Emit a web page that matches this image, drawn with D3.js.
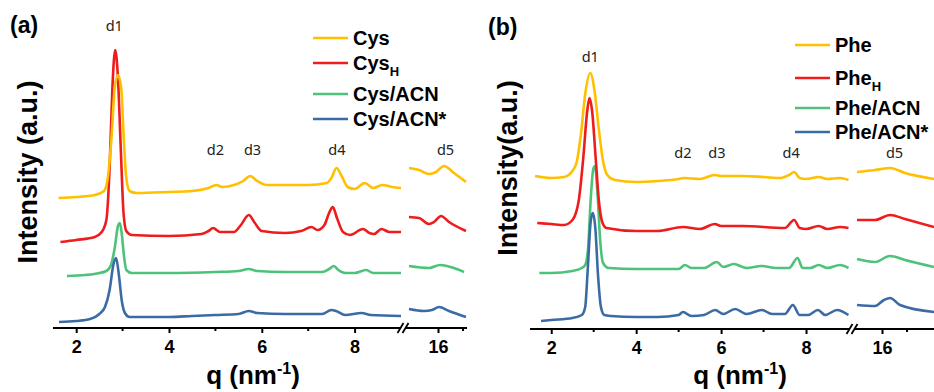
<!DOCTYPE html>
<html>
<head>
<meta charset="utf-8">
<script src="https://cdnjs.cloudflare.com/ajax/libs/d3/7.8.5/d3.min.js"></script>
<style>
body { margin: 0; background: #fff; }
svg { display: block; }
</style>
</head>
<body>
<script>
// sizes
var w = 934;
var h = 392;

// ---- data: [q (nm^-1), intensity (a.u., stacked)] ----
// panel (a), q from 1.5 to 9
var cysL = [[1.62,130],[2.0,131],[2.4,133],[2.6,137],[2.68,150],[2.76,190],[2.83,240],[2.9,253],[2.97,240],[3.03,185],[3.08,150],[3.15,137],[3.3,135],[4.0,136],[4.5,137],[4.85,140],[5.02,143],[5.15,141],[5.4,143],[5.6,147],[5.75,152],[5.9,147],[6.1,143],[7.0,143],[7.4,145],[7.5,150],[7.61,160],[7.72,152],[7.85,141],[8.0,139],[8.22,145],[8.4,140],[8.6,143],[8.8,141],[9.0,140]];
var cysHL = [[1.66,86],[2.0,88],[2.4,91],[2.55,96],[2.65,108],[2.72,160],[2.78,240],[2.84,278],[2.9,250],[2.96,180],[3.02,115],[3.08,97],[3.2,93],[4.0,92],[4.7,94],[4.85,97],[4.95,100],[5.1,96],[5.4,96],[5.55,103],[5.72,113],[5.85,105],[6.0,97],[6.5,95],[6.85,97],[7.07,101],[7.2,98],[7.35,103],[7.45,115],[7.53,121],[7.62,110],[7.75,96],[7.9,93],[8.18,99],[8.32,95],[8.42,94],[8.58,99],[8.75,96],[9.0,96]];
var cysAcnL = [[1.8,52],[2.2,53],[2.5,55],[2.65,57],[2.75,63],[2.83,80],[2.9,102],[2.94,105],[2.98,95],[3.03,72],[3.08,58],[3.2,55],[4.0,55],[5.0,56],[5.5,57],[5.72,59],[5.9,57],[6.5,56],[7.3,56],[7.45,59],[7.55,62],[7.65,58],[7.8,55],[8.0,55],[8.25,58],[8.4,55],[9.0,55]];
var cysAcnsL = [[1.63,6],[2.0,7],[2.3,9],[2.5,14],[2.62,21],[2.72,38],[2.8,63],[2.86,70],[2.92,53],[2.98,28],[3.05,15],[3.15,11],[4.0,11],[4.5,12],[5.0,13],[5.5,14],[5.72,17],[5.9,15],[6.5,14],[7.3,14],[7.5,18],[7.6,17],[7.8,13],[8.15,15],[8.35,13],[9.0,12]];
// panel (a), q near 16
var cysR = [[14.84,160],[15.24,158],[15.64,154],[15.92,156],[16.24,162],[16.64,155],[17.12,146]];
var cysHR = [[14.84,111],[15.24,110],[15.64,104],[15.84,106],[16.12,112],[16.44,106],[17.12,97]];
var cysAcnR = [[14.84,62],[15.64,60],[16.08,63],[16.64,60],[17.04,56]];
var cysAcnsR = [[14.84,19],[15.44,17],[15.76,18],[16.04,21],[16.44,17],[17.12,11]];

// panel (b), q from 1.5 to 9
var pheL = [[1.62,153],[2.0,151],[2.3,152],[2.5,158],[2.6,167],[2.7,195],[2.8,235],[2.92,256],[3.02,238],[3.12,200],[3.22,168],[3.32,154],[3.5,149],[4.0,147],[4.5,148],[5.0,150],[5.12,151],[5.5,150],[5.85,154],[6.0,153],[6.5,153],[7.0,152],[7.4,151],[7.6,154],[7.72,157],[7.85,151],[8.0,150],[8.3,152],[8.5,150],[8.8,151],[9.0,149]];
var pheHL = [[1.67,106],[2.0,105],[2.3,104],[2.5,109],[2.65,129],[2.75,169],[2.85,219],[2.9,231],[2.96,219],[3.05,169],[3.12,129],[3.2,107],[3.3,101],[4.0,98],[4.5,98],[5.1,102],[5.5,100],[5.85,105],[6.0,103],[6.5,103],[7.5,101],[7.72,109],[7.85,101],[8.0,100],[8.3,103],[8.5,100],[8.8,102],[9.0,101]];
var pheAcnL = [[1.72,56],[2.0,56],[2.5,58],[2.72,61],[2.8,64],[2.87,82],[2.93,130],[2.99,160],[3.03,163],[3.09,135],[3.15,90],[3.22,66],[3.35,61],[4.0,60],[5.0,60],[5.15,64],[5.3,61],[5.6,61],[5.9,67],[6.05,62],[6.3,65],[6.6,61],[6.95,63],[7.3,61],[7.6,61],[7.8,71],[7.92,61],[8.1,61],[8.3,64],[8.5,61],[8.8,64],[9.0,61]];
var pheAcnsL = [[1.76,8],[2.0,9],[2.5,11],[2.72,14],[2.8,22],[2.86,60],[2.93,108],[2.98,116],[3.04,100],[3.1,55],[3.17,22],[3.25,14],[3.4,13],[4.0,12],[4.5,12],[5.0,14],[5.1,17],[5.3,13],[5.6,14],[5.86,19],[6.05,15],[6.33,20],[6.6,15],[6.96,19],[7.2,15],[7.5,15],[7.69,24],[7.85,14],[8.05,14],[8.28,19],[8.45,14],[8.73,19],[9.0,14]];
// panel (b), q near 16
var pheR = [[15.0,157],[15.72,159],[16.32,161],[16.92,156],[18.08,150]];
var pheHR = [[15.0,109],[15.72,109],[16.32,114],[16.92,110],[18.08,102]];
var pheAcnR = [[15.0,70],[15.72,67],[16.32,73],[16.92,69],[18.08,62]];
var pheAcnsR = [[15.0,24],[15.72,23],[16.08,29],[16.32,31],[16.72,24],[18.08,17]];

// names, peak labels, ticks
var cysNames = [["Cys",""],["Cys","H"],["Cys/ACN",""],["Cys/ACN*",""]];
var pheNames = [["Phe",""],["Phe","H"],["Phe/ACN",""],["Phe/ACN*",""]];
var peakNames = ["d1","d2","d3","d4","d5"];
var cysPeakQ = [2.82, 5.0, 5.8, 7.62, 16.3];
var phePeakQ = [2.92, 5.1, 5.9, 7.65, 16.5];
var majorTicksL = [2, 4, 6, 8];
var minorTicksL = [3, 5, 7];
var majorTicksR = [16];
var minorTicksR = [17];

var colors = ["#FFC000", "#EE1C1C", "#4DC27A", "#3B6BA5"];

var svg = d3.select("body")
    .append("svg")
    .attr("width", w)
    .attr("height", h)
    .style("font-family", "'Liberation Sans', Arial, sans-serif");

var panels = [
    {
        tag: "(a)", tagX: 10, tagY: 33,
        axisY: 328, left: [53, 401], right: [407, 467],
        domL: [1.5, 9.0], domR: [14.76, 17.16],
        breakX: 403,
        series: [[cysL, cysR], [cysHL, cysHR], [cysAcnL, cysAcnR], [cysAcnsL, cysAcnsR]],
        names: cysNames,
        legY: [38, 63, 94, 119], legX: 313,
        peaks: cysPeakQ, d1Y: 31, dY: 155,
        ylab: "Intensity (a.u.)", ylabX: 28, ylabY: 172,
        xlabX: 253
    },
    {
        tag: "(b)", tagX: 488, tagY: 35,
        axisY: 329, left: [530, 848.5], right: [857, 934],
        domL: [1.5, 9.0], domR: [15.0, 18.08],
        breakX: 852,
        series: [[pheL, pheR], [pheHL, pheHR], [pheAcnL, pheAcnR], [pheAcnsL, pheAcnsR]],
        names: pheNames,
        legY: [45, 78, 108, 132], legX: 795,
        peaks: phePeakQ, d1Y: 62, dY: 158,
        ylab: "Intensity(a.u.)", ylabX: 508, ylabY: 168,
        xlabX: 740
    }
];

function draw_panel(p) {
    var g = svg.append("g");

    var xL = d3.scaleLinear().domain(p.domL).range(p.left);
    var xR = d3.scaleLinear().domain(p.domR).range(p.right);
    var y = d3.scaleLinear().domain([0, 300]).range([p.axisY, p.axisY - 300]);

    // curves
    var lineL = d3.line().x(d => xL(d[0])).y(d => y(d[1])).curve(d3.curveMonotoneX);
    var lineR = d3.line().x(d => xR(d[0])).y(d => y(d[1])).curve(d3.curveMonotoneX);
    var order = [2, 3, 1, 0];
    order.forEach(i => {
        g.append("path").attr("d", lineL(p.series[i][0]))
            .attr("fill", "none").attr("stroke", colors[i])
            .attr("stroke-width", 2.6).attr("stroke-linejoin", "round");
        g.append("path").attr("d", lineR(p.series[i][1]))
            .attr("fill", "none").attr("stroke", colors[i])
            .attr("stroke-width", 2.6).attr("stroke-linejoin", "round");
    });

    // x axis, two pieces
    var axL = g.append("g").attr("transform", "translate(0," + p.axisY + ")")
        .call(d3.axisBottom(xL).tickValues(majorTicksL).tickSize(5).tickPadding(7).tickFormat(d3.format("d")));
    axL.select(".domain").attr("d", "M" + p.left[0] + ",0H" + (p.breakX - 3));
    var axR = g.append("g").attr("transform", "translate(0," + p.axisY + ")")
        .call(d3.axisBottom(xR).tickValues(majorTicksR).tickSize(5).tickPadding(7).tickFormat(d3.format("d")));
    axR.select(".domain").attr("d", "M" + (p.breakX + 3) + ",0H" + p.right[1]);
    [axL, axR].forEach(ax => {
        ax.select(".domain").attr("stroke", "#000").attr("stroke-width", 2.2);
        ax.selectAll(".tick line").attr("stroke", "#000").attr("stroke-width", 2);
        ax.selectAll(".tick text").attr("fill", "#000")
            .style("font-size", "18px").style("font-weight", "bold")
            .style("font-family", "'Liberation Sans', Arial, sans-serif");
    });
    g.selectAll(".minorL").data(minorTicksL).enter().append("line")
        .attr("x1", d => xL(d)).attr("x2", d => xL(d))
        .attr("y1", p.axisY).attr("y2", p.axisY + 3)
        .attr("stroke", "#000").attr("stroke-width", 2);
    g.selectAll(".minorR").data(minorTicksR).enter().append("line")
        .attr("x1", d => xR(d)).attr("x2", d => xR(d))
        .attr("y1", p.axisY).attr("y2", p.axisY + 3)
        .attr("stroke", "#000").attr("stroke-width", 2);

    // break marks
    [-2.5, 2.5].forEach(dx => {
        g.append("line")
            .attr("x1", p.breakX + dx - 3).attr("y1", p.axisY + 5)
            .attr("x2", p.breakX + dx + 3).attr("y2", p.axisY - 5)
            .attr("stroke", "#000").attr("stroke-width", 1.8);
    });

    // axis titles
    var xt = g.append("text").attr("x", p.xlabX).attr("y", 384)
        .attr("text-anchor", "middle").style("font-size", "26px").style("font-weight", "bold");
    xt.append("tspan").text("q (nm");
    xt.append("tspan").attr("dy", -10).style("font-size", "16px").text("-1");
    xt.append("tspan").attr("dy", 10).text(")");

    g.append("text")
        .attr("transform", "translate(" + p.ylabX + "," + p.ylabY + ") rotate(-90)")
        .attr("text-anchor", "middle").attr("dominant-baseline", "central")
        .style("font-size", "27px").style("font-weight", "bold")
        .text(p.ylab);

    // panel tag
    g.append("text").attr("x", p.tagX).attr("y", p.tagY)
        .style("font-size", "23px").style("font-weight", "bold").text(p.tag);

    // peak labels
    g.selectAll(".peak").data(peakNames).enter().append("text")
        .attr("x", (d, i) => i < 4 ? xL(p.peaks[i]) : xR(p.peaks[i]))
        .attr("y", (d, i) => i == 0 ? p.d1Y : p.dY)
        .attr("text-anchor", "middle")
        .style("font-family", "'Noto Sans', 'Open Sans', sans-serif")
        .style("font-size", "14.5px").attr("fill", "#222")
        .text(d => d);

    // legend
    p.names.forEach((n, i) => {
        g.append("line")
            .attr("x1", p.legX).attr("x2", p.legX + 35)
            .attr("y1", p.legY[i]).attr("y2", p.legY[i])
            .attr("stroke", colors[i]).attr("stroke-width", 2.6);
        var t = g.append("text").attr("x", p.legX + 40).attr("y", p.legY[i] + 7)
            .style("font-size", "20px").style("font-weight", "bold");
        t.append("tspan").text(n[0]);
        if (n[1]) {
            t.append("tspan").attr("dy", 6).style("font-size", "13px").text(n[1]);
        }
    });
}

panels.forEach(draw_panel);
</script>
</body>
</html>
